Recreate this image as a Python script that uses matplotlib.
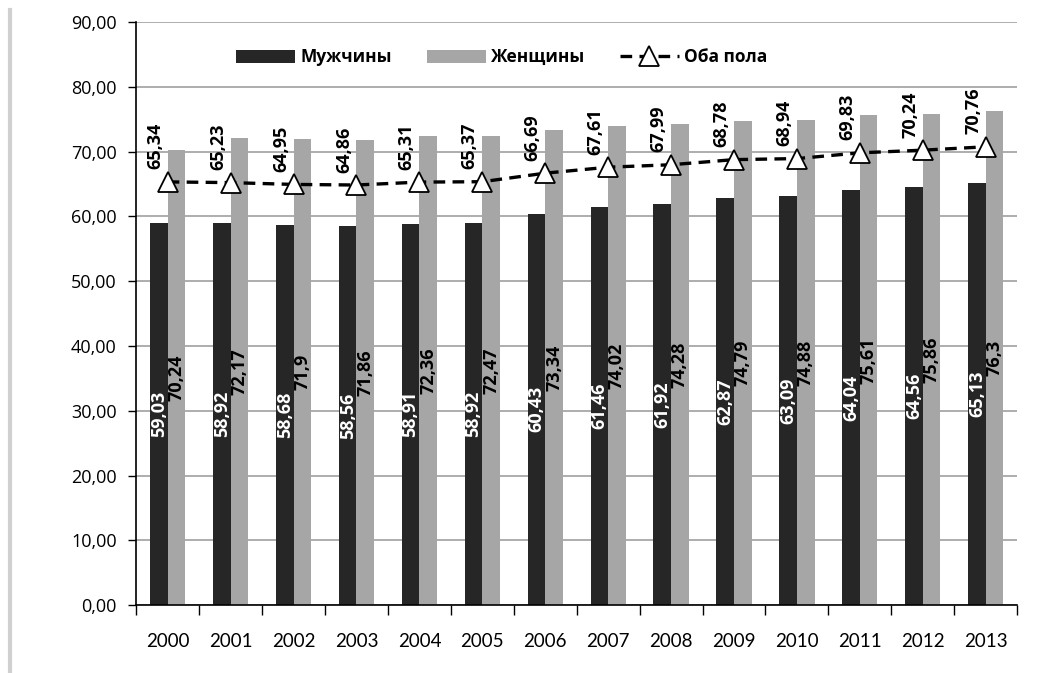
import matplotlib
matplotlib.use("Agg")
import matplotlib.pyplot as plt
from matplotlib.ticker import FuncFormatter
import numpy as np

years = ["2000", "2001", "2002", "2003", "2004", "2005", "2006",
         "2007", "2008", "2009", "2010", "2011", "2012", "2013"]
men = [59.03, 58.92, 58.68, 58.56, 58.91, 58.92, 60.43,
       61.46, 61.92, 62.87, 63.09, 64.04, 64.56, 65.13]
women = [70.24, 72.17, 71.9, 71.86, 72.36, 72.47, 73.34,
         74.02, 74.28, 74.79, 74.88, 75.61, 75.86, 76.3]
both = [65.34, 65.23, 64.95, 64.86, 65.31, 65.37, 66.69,
        67.61, 67.99, 68.78, 68.94, 69.83, 70.24, 70.76]

plt.rcParams['font.family'] = ['Lato', 'DejaVu Sans']


def fmt(v):
    s = ("%.2f" % v).rstrip("0").rstrip(".")
    return s.replace(".", ",")


fig = plt.figure(figsize=(10.64, 6.73), dpi=100)
ax = fig.add_axes([0.128, 0.101, 0.828, 0.866])

x = np.arange(len(years))
w = 0.28
b1 = ax.bar(x - w / 2, men, width=w, color="#262626", label="Мужчины", zorder=2)
b2 = ax.bar(x + w / 2, women, width=w, color="#A6A6A6", label="Женщины", zorder=2)
ln, = ax.plot(x, both, linestyle=(0, (3.5, 2.2)), color="black", linewidth=2.4,
              marker="^", markersize=15, markerfacecolor="white",
              markeredgecolor="black", markeredgewidth=1.3,
              label="Оба пола", zorder=4)

lab_font = dict(family=['Open Sans', 'DejaVu Sans'], fontweight="bold", fontsize=13)
for i in range(len(years)):
    ax.text(x[i] - w / 2, men[i] / 2, fmt(men[i]), rotation=90, ha="center",
            va="center", color="white", zorder=5, **lab_font)
    ax.text(x[i] + w / 2, women[i] / 2, fmt(women[i]), rotation=90, ha="center",
            va="center", color="black", zorder=5, **lab_font)
    ax.annotate(fmt(both[i]), (x[i], both[i]), xytext=(-9, 9),
                textcoords="offset points", rotation=90, ha="center",
                va="bottom", color="black", zorder=5, **lab_font)

ax.set_ylim(0, 90)
ax.set_xlim(-0.5, len(years) - 0.5)
ax.set_yticks(np.arange(0, 91, 10))
ax.yaxis.set_major_formatter(FuncFormatter(lambda v, p: ("%.2f" % v).replace(".", ",")))
ax.set_xticks(x)
ax.set_xticklabels(years)
ax.set_xticks(np.arange(-0.5, len(years), 1), minor=True)
ax.tick_params(axis="x", which="major", length=0, pad=20, labelsize=13.5)
ax.tick_params(axis="x", which="minor", length=7, width=1, direction="out")
ax.tick_params(axis="y", length=6, width=1, pad=8, labelsize=13)
for t in ax.get_yticklabels():
    t.set_family(['Open Sans', 'DejaVu Sans'])

ax.grid(axis="y", color="#A0A0A0", linewidth=1.2, zorder=0)
ax.set_axisbelow(True)
ax.spines["top"].set_visible(False)
ax.spines["right"].set_visible(False)
ax.spines["left"].set_linewidth(1.2)
ax.spines["bottom"].set_linewidth(1.2)

leg = ax.legend(handles=[b1, b2, ln], loc="center", bbox_to_anchor=(0.415, 0.94),
                ncol=3, frameon=False, handlelength=3.4, handleheight=0.8,
                columnspacing=2.0, handletextpad=0.3,
                prop=dict(family=['Open Sans', 'DejaVu Sans'], weight="bold", size=12.5))

# light frame line at left edge like the source
fig.add_artist(plt.Line2D([0.009, 0.009], [0.0, 0.985], color="#D0D0D0",
                          linewidth=3, transform=fig.transFigure))

fig.savefig("out.png", dpi=100)
